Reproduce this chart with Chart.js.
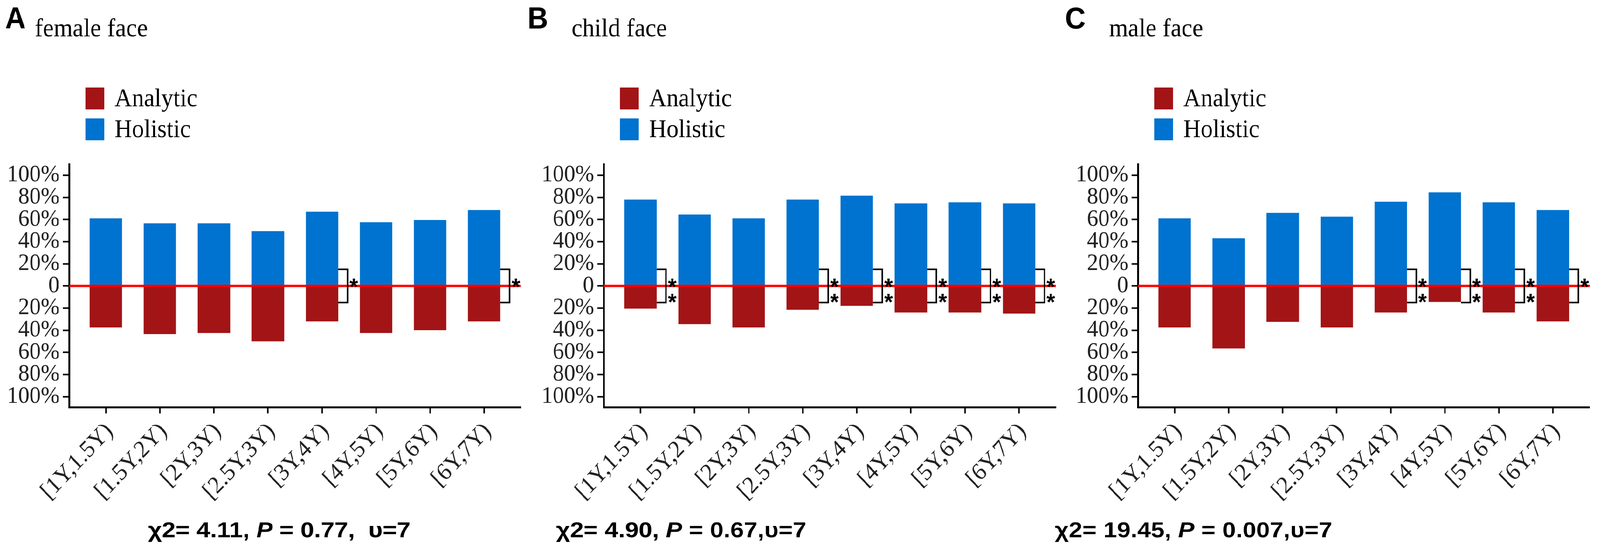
<!DOCTYPE html>
<html>
<head>
<meta charset="utf-8">
<title>Analytic vs holistic strategy by age</title>
<script src="https://cdn.jsdelivr.net/npm/chart.js@4.4.1/dist/chart.umd.min.js"></script>
<style>
  html, body { margin: 0; padding: 0; background: #fff; overflow: hidden; }
  #wrap { position: relative; width: 4328px; height: 1405px; overflow: hidden; transform-origin: 0 0; }
  canvas { position: absolute; top: 0; }
</style>
</head>
<body>
<div id="wrap">
  <canvas id="chartA"></canvas>
  <canvas id="chartB"></canvas>
  <canvas id="chartC"></canvas>
</div>
<script>
// age bins (the 4th label is printed like this in the figure)
const ageGroups = ["[1Y,1.5Y)", "[1.5Y,2Y)", "[2Y,3Y)", "[2.5Y,3Y)", "[3Y,4Y)", "[4Y,5Y)", "[5Y,6Y)", "[6Y,7Y)"];
const yTicks = [-100, -80, -60, -40, -20, 0, 20, 40, 60, 80, 100];

// share of children using each strategy (%): holistic drawn up, analytic drawn down
const femaleHolistic = [61, 56.5, 56.5, 49.5, 67, 57.5, 59.5, 68.5];
const femaleAnalytic = [37.5, 43.5, 42.5, 50, 32, 42.5, 40, 32];
const childHolistic = [78, 64.5, 61, 78, 81.5, 74.5, 75.5, 74.5];
const childAnalytic = [20.5, 34.5, 37.5, 21.5, 18, 24, 24, 25];
const maleHolistic = [61, 43, 66, 62.5, 76, 84.5, 75.5, 68.5];
const maleAnalytic = [37.5, 56.5, 32.5, 37.5, 24, 14.5, 24, 32];

// significance stars beside each age bin (0 = none)
const femaleStars = [0, 0, 0, 0, 1, 0, 0, 1];
const childStars = [2, 0, 0, 2, 2, 2, 2, 2];
const maleStars = [0, 0, 0, 0, 2, 2, 2, 1];

const RED = "#a31416";
const BLUE = "#0072cf";
const SERIF = "'Liberation Serif', 'Times New Roman', serif";
const SANS = "'Liberation Sans', Arial, sans-serif";

const panels = [
  {
    id: "chartA", left: 0, width: 1420, axisLeft: 187, plotRight: 1409,
    letter: "A", title: "female face", letterX: 14, titleX: 94, captionX: 400,
    holistic: femaleHolistic, analytic: femaleAnalytic, stars: femaleStars,
    caption: [["\u03c72= 4.11, ", false], ["P", true], [" = 0.77,  \u03c5=7", false]],
  },
  {
    id: "chartB", left: 1420, width: 1440, axisLeft: 213, plotRight: 1436,
    letter: "B", title: "child face", letterX: 7, titleX: 126, captionX: 84,
    holistic: childHolistic, analytic: childAnalytic, stars: childStars,
    caption: [["\u03c72= 4.90, ", false], ["P", true], [" = 0.67,\u03c5=7", false]],
  },
  {
    id: "chartC", left: 2840, width: 1488, axisLeft: 238, plotRight: 1460,
    letter: "C", title: "male face", letterX: 41, titleX: 160, captionX: 13,
    holistic: maleHolistic, analytic: maleAnalytic, stars: maleStars,
    caption: [["\u03c72= 19.45, ", false], ["P", true], [" = 0.007,\u03c5=7", false]],
  },
];

// zero line, significance brackets, header, legend and caption
const decor = {
  id: "decor",
  afterDatasetsDraw(chart, args, opts) {
    const { ctx, chartArea, scales } = chart;
    const y = scales.y;
    const zero = y.getPixelForValue(0);
    ctx.save();
    ctx.strokeStyle = "#ff0000";
    ctx.lineWidth = 6;
    ctx.beginPath();
    ctx.moveTo(chartArea.left, zero);
    ctx.lineTo(chartArea.right, zero);
    ctx.stroke();

    const bars = chart.getDatasetMeta(1).data;
    const top = y.getPixelForValue(15);
    const bottom = y.getPixelForValue(-15);
    ctx.strokeStyle = "#000";
    ctx.fillStyle = "#000";
    ctx.lineWidth = 4;
    ctx.font = "bold 60px " + SANS;
    ctx.textAlign = "center";
    ctx.textBaseline = "alphabetic";
    opts.stars.forEach((n, i) => {
      if (!n) return;
      const bar = bars[i];
      const x0 = bar.x + bar.width / 2;
      const x1 = x0 + 25;
      ctx.beginPath();
      ctx.moveTo(x0, top);
      ctx.lineTo(x1, top);
      ctx.lineTo(x1, bottom);
      ctx.lineTo(x0, bottom);
      ctx.stroke();
      ctx.fillText("*", x1 + 17, zero + 22);
      if (n > 1) ctx.fillText("*", x1 + 17, zero + 61);
    });
    ctx.restore();
  },
  afterDraw(chart, args, opts) {
    const { ctx, chartArea } = chart;
    ctx.save();
    ctx.fillStyle = "#000";
    ctx.textAlign = "left";
    ctx.textBaseline = "alphabetic";
    ctx.font = "bold 77px " + SANS;
    ctx.fillText(opts.letter, opts.letterX, 73);
    ctx.font = "66px " + SERIF;
    ctx.fillText(opts.title, opts.titleX, 93);

    // legend, stacked vertically
    const lx = chartArea.left + 44;
    chart.data.datasets.forEach((ds, k) => {
      const t = 224 + k * 79;
      ctx.fillStyle = ds.backgroundColor;
      ctx.fillRect(lx, t, 51, 56);
      ctx.fillStyle = "#000";
      ctx.font = "65px " + SERIF;
      ctx.fillText(ds.label, lx + 79, t + 48);
    });

    // caption, the figure prints it a little wide
    const sx = 1.18;
    ctx.scale(sx, 1);
    let x = opts.captionX / sx;
    opts.caption.forEach(([text, italic]) => {
      ctx.font = (italic ? "italic " : "") + "bold 56px " + SANS;
      ctx.fillText(text, x, 1375);
      x += ctx.measureText(text).width;
    });
    ctx.restore();
  },
};

function drawPanel(p) {
  const canvas = document.getElementById(p.id);
  canvas.width = p.width;
  canvas.height = 1405;
  canvas.style.left = p.left + "px";

  new Chart(canvas, {
    type: "bar",
    data: {
      datasets: [
        {
          label: "Analytic",
          data: p.analytic.map((v, i) => ({ x: i, y: -v })),
          backgroundColor: RED,
        },
        {
          label: "Holistic",
          data: p.holistic.map((v, i) => ({ x: i, y: v })),
          backgroundColor: BLUE,
        },
      ],
    },
    options: {
      responsive: false,
      animation: false,
      devicePixelRatio: 1,
      events: [],
      layout: { padding: { top: 420, left: 0, bottom: 0, right: p.width - p.plotRight } },
      datasets: { bar: { barPercentage: 0.6, categoryPercentage: 1, borderWidth: 0 } },
      plugins: {
        legend: { display: false },
        tooltip: { enabled: false },
        decor: p,
      },
      scales: {
        x: {
          type: "linear",
          min: -0.68,
          max: 7.68,
          offset: false,
          stacked: true,
          afterBuildTicks: (s) => { s.ticks = ageGroups.map((_, i) => ({ value: i })); },
          afterFit: (s) => { s.height = 363; },
          ticks: {
            callback: (v) => ageGroups[v],
            minRotation: 45,
            maxRotation: 45,
            autoSkip: false,
            font: { family: SERIF, size: 62 },
            color: "#222",
            padding: 10,
            labelOffset: 10,
          },
          grid: { offset: false, drawOnChartArea: false, color: "#000", tickLength: 16, tickWidth: 4 },
          border: { color: "#000", width: 5 },
        },
        y: {
          min: -109.5,
          max: 110,
          stacked: true,
          afterBuildTicks: (s) => { s.ticks = yTicks.map((v) => ({ value: v })); },
          afterFit: (s) => { s.width = p.axisLeft; },
          ticks: {
            callback: (v) => (v === 0 ? "0" : Math.abs(v) + "%"),
            autoSkip: false,
            font: { family: SERIF, size: 61 },
            color: "#222",
            padding: 9,
          },
          grid: { drawOnChartArea: false, color: "#000", tickLength: 17, tickWidth: 4 },
          border: { color: "#000", width: 5 },
        },
      },
    },
    plugins: [decor],
  });
}

document.addEventListener("DOMContentLoaded", () => {
  // the window may be narrower than 4328 px: stretch the figure to fill it
  const sx = Math.min(1, window.innerWidth / 4328);
  const sy = Math.min(1, window.innerHeight / 1405);
  document.getElementById("wrap").style.transform = "scale(" + sx + "," + sy + ")";
  panels.forEach(drawPanel);
});
</script>
</body>
</html>
